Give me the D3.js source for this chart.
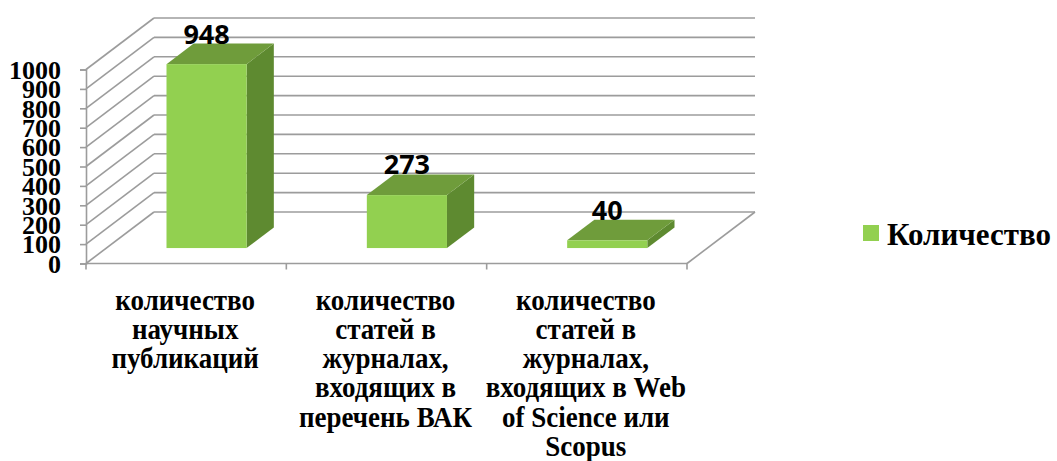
<!DOCTYPE html>
<html>
<head>
<meta charset="utf-8">
<script src="https://cdn.jsdelivr.net/npm/d3@7/dist/d3.min.js"></script>
<style>
  html, body { margin: 0; padding: 0; background: #fff; }
  svg { display: block; }
</style>
</head>
<body>
<svg id="chart" width="1057" height="461"></svg>
<script>
// Publication counts by category
const categoryLines = [
  ["количество", "научных", "публикаций"],
  ["количество", "статей в", "журналах,", "входящих в", "перечень ВАК"],
  ["количество", "статей в", "журналах,", "входящих в Web", "of Science или", "Scopus"]
];
const categories = categoryLines.map(l => l.join(" "));
const values = [948, 273, 40];
const seriesName = "Количество";
const yTicks = [0, 100, 200, 300, 400, 500, 600, 700, 800, 900, 1000];

const svg = d3.select("#chart");

// front plane of the 3D box and depth offset towards the back wall
const frontLeft = 86, frontRight = 687;
const floorY = 263.5, topY = 69.5;
const depth = { dx: 68, dy: 51.5 };

const x = d3.scaleBand().domain(categories).range([frontLeft, frontRight]).paddingInner(0).paddingOuter(0);
const y = d3.scaleLinear().domain([0, 1000]).range([floorY, topY]);

const gridColor = "#9c9c9c";
const grid = svg.append("g").attr("stroke", gridColor).attr("stroke-width", 1.6).attr("fill", "none");

// back wall horizontals and side wall diagonals
yTicks.forEach(v => {
  grid.append("line")
    .attr("x1", frontLeft + depth.dx).attr("y1", y(v) - depth.dy)
    .attr("x2", frontRight + depth.dx).attr("y2", y(v) - depth.dy);
  grid.append("line")
    .attr("x1", frontLeft).attr("y1", y(v))
    .attr("x2", frontLeft + depth.dx).attr("y2", y(v) - depth.dy);
});
// floor right edge
grid.append("line")
  .attr("x1", frontRight).attr("y1", floorY)
  .attr("x2", frontRight + depth.dx).attr("y2", floorY - depth.dy);

// value axis on the front-left edge
const yAxis = svg.append("g")
  .attr("transform", `translate(${frontLeft},0)`)
  .call(d3.axisLeft(y).tickValues(yTicks).tickSize(6).tickPadding(19).tickFormat(d3.format("d")));
yAxis.select(".domain").attr("stroke", gridColor).attr("stroke-width", 1.6);
yAxis.selectAll(".tick line").attr("stroke", gridColor).attr("stroke-width", 1.6);
yAxis.selectAll(".tick text")
  .attr("fill", "#000")
  .attr("dy", "0.34em")
  .style("font-family", "'Liberation Serif', 'Times New Roman', serif")
  .style("font-weight", "bold")
  .style("font-size", "26px");

// category axis along the front floor edge
const xAxis = svg.append("g").attr("transform", `translate(0,${floorY})`);
xAxis.append("line")
  .attr("x1", frontLeft).attr("x2", frontRight)
  .attr("stroke", gridColor).attr("stroke-width", 1.6);
const edges = categories.map(c => x(c)).concat([x(categories[categories.length - 1]) + x.bandwidth()]);
xAxis.selectAll("line.edge").data(edges).join("line")
  .attr("class", "edge")
  .attr("x1", d => d).attr("x2", d => d)
  .attr("y1", 0).attr("y2", 6)
  .attr("stroke", gridColor).attr("stroke-width", 1.6);

// category labels, slightly tall letterforms
const catLabels = svg.append("g")
  .style("font-family", "'Liberation Serif', 'Times New Roman', serif")
  .style("font-weight", "bold")
  .style("font-size", "27px")
  .attr("fill", "#000")
  .attr("text-anchor", "middle");
categoryLines.forEach((lines, i) => {
  const cx = x(categories[i]) + x.bandwidth() / 2 - 1;
  lines.forEach((ln, j) => {
    catLabels.append("text")
      .attr("transform", `translate(${cx},${309.5 + j * 29.3}) scale(1,1.13)`)
      .text(ln);
  });
});

// 3D bars: front face, top face and right side face
const barRatio = 0.4;
const f0 = 0.3, f1 = 0.7; // bar occupies the middle of the depth
const front = { dx: depth.dx * f0, dy: depth.dy * f0 };
const bd = { dx: depth.dx * (f1 - f0), dy: depth.dy * (f1 - f0) };
const colFront = "#92d050", colTop = "#6f9c3b", colSide = "#5e8a30";

const bars = svg.append("g");
values.forEach((v, i) => {
  const bw = x.bandwidth() * barRatio;
  const x0 = x(categories[i]) + (x.bandwidth() - bw) / 2 + front.dx;
  const x1 = x0 + bw;
  const yb = y(0) - front.dy;
  const yt = y(v) - front.dy;
  bars.append("path")
    .attr("d", `M${x1},${yb}L${x1 + bd.dx},${yb - bd.dy}L${x1 + bd.dx},${yt - bd.dy}L${x1},${yt}Z`)
    .attr("fill", colSide);
  bars.append("path")
    .attr("d", `M${x0},${yt}L${x0 + bd.dx},${yt - bd.dy}L${x1 + bd.dx},${yt - bd.dy}L${x1},${yt}Z`)
    .attr("fill", colTop);
  bars.append("rect")
    .attr("x", x0).attr("y", yt).attr("width", bw).attr("height", yb - yt)
    .attr("fill", colFront);
  // value label
  svg.append("text")
    .attr("x", (x0 + x1) / 2)
    .attr("y", yt - bd.dy)
    .attr("text-anchor", "middle")
    .style("font-family", "'Open Sans', sans-serif")
    .style("font-weight", "bold")
    .style("font-size", "27px")
    .attr("fill", "#000")
    .text(v);
});

// legend
const legend = svg.append("g").attr("transform", "translate(863,225)");
legend.append("rect").attr("width", 16).attr("height", 16).attr("fill", colFront);
legend.append("text")
  .attr("x", 24).attr("y", 20)
  .style("font-family", "'Liberation Serif', 'Times New Roman', serif")
  .style("font-weight", "bold")
  .style("font-size", "31px")
  .attr("fill", "#000")
  .text(seriesName);
</script>
</body>
</html>
